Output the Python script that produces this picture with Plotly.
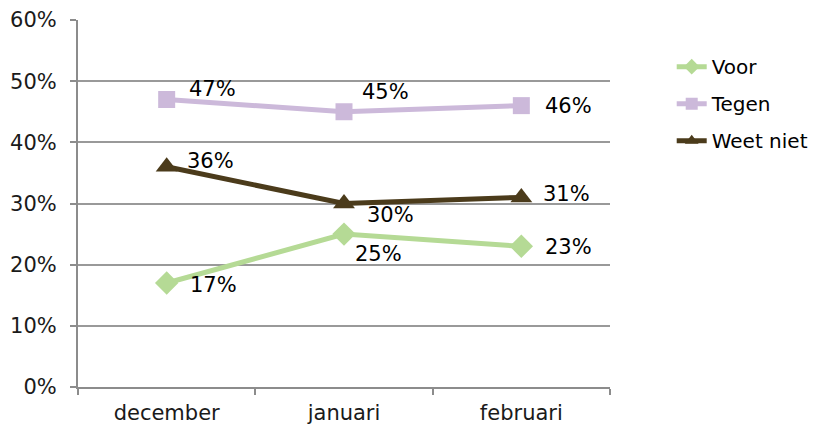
import plotly.graph_objects as go

categories = ["december", "januari", "februari"]
voor = [0.17, 0.25, 0.23]
tegen = [0.47, 0.45, 0.46]
weet_niet = [0.36, 0.30, 0.31]
y_ticks = [0, 0.1, 0.2, 0.3, 0.4, 0.5, 0.6]

series = [
    ("Voor", voor, "#B5DA95", "diamond", 18, [(47, 2), (34, 20), (47, 1)]),
    ("Tegen", tegen, "#CCB9DA", "square", 17, [(46, -11), (41, -20), (47, 0)]),
    ("Weet niet", weet_niet, "#4B3B1B", "triangle-up", 19, [(44, -6), (46, 11), (45, -3)]),
]

FONT = "DejaVu Sans"
FS = 21
fig = go.Figure()
annotations = []
for name, vals, color, sym, msize, offs in series:
    fig.add_trace(go.Scatter(
        x=categories, y=vals, name=name, mode="lines+markers",
        legendgroup=name,
        line=dict(color=color, width=5),
        marker=dict(symbol=sym, size=msize, color=color),
        hoverinfo="skip",
    ))
    for c, v, (dx, dy) in zip(categories, vals, offs):
        annotations.append(dict(
            x=c, y=v, xref="x", yref="y", text=f"{round(v*100)}%",
            showarrow=False, xshift=dx, yshift=-dy,
            font=dict(family=FONT, size=FS, color="#000000"),
        ))

fig.update_layout(
    width=816, height=430,
    margin=dict(l=70, r=214, t=12, b=51, autoexpand=False),
    paper_bgcolor="white", plot_bgcolor="white",
    font=dict(family=FONT, size=FS, color="#1a1a1a"),
    showlegend=True,
    legend=dict(x=1.116, y=0.926, xanchor="left", yanchor="top",
                font=dict(family=FONT, size=FS - 1, color="#000000"),
                bgcolor="rgba(0,0,0,0)", itemwidth=30,
                traceorder="grouped", tracegroupgap=8, itemsizing="constant"),
    annotations=annotations,
)
fig.update_xaxes(
    type="category", range=[-0.5, 2.5], automargin=False,
    showline=True, linecolor="#8C8C8C", linewidth=2,
    ticks="outside", tickson="boundaries", ticklen=6, tickcolor="#8C8C8C", tickwidth=2,
    ticklabelstandoff=6,
    showgrid=False, tickfont=dict(family=FONT, size=FS, color="#1a1a1a"),
)
fig.update_yaxes(
    range=[0, 0.6], tickvals=y_ticks, tickformat=".0%", automargin=False,
    showline=True, linecolor="#8C8C8C", linewidth=2,
    ticks="outside", ticklen=6, tickcolor="#8C8C8C", tickwidth=2,
    ticklabelstandoff=9,
    showgrid=True, gridcolor="#999999", gridwidth=2, zeroline=False,
    tickfont=dict(family=FONT, size=FS, color="#1a1a1a"),
)

fig.write_html("out.html")
